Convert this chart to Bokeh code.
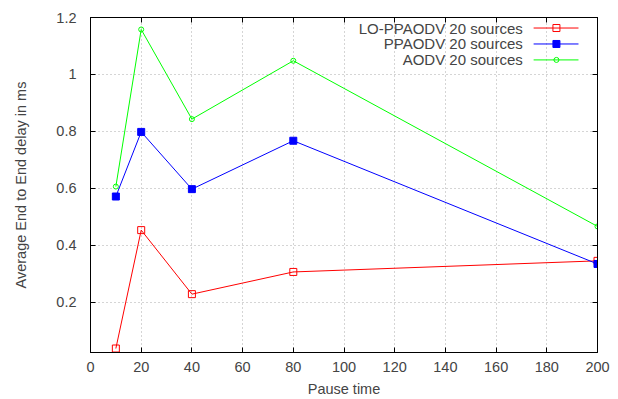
from bokeh.plotting import figure
from bokeh.models import LinearAxis, FixedTicker, Range1d
from bokeh.embed import file_html
from bokeh.resources import INLINE
from bokeh.core.properties import value

pause_time = [10, 20, 40, 80, 200]
lo_ppaodv = [0.037, 0.453, 0.228, 0.306, 0.345]
ppaodv = [0.571, 0.798, 0.597, 0.767, 0.334]
aodv = [0.606, 1.158, 0.843, 1.048, 0.466]
series_names = ["LO-PPAODV 20 sources", "PPAODV 20 sources", "AODV 20 sources"]
x_ticks = [0, 20, 40, 60, 80, 100, 120, 140, 160, 180, 200]
y_ticks = [0.2, 0.4, 0.6, 0.8, 1.0, 1.2]
y_tick_labels = ["0.2", "0.4", "0.6", "0.8", "1", "1.2"]

FONT = "Liberation Sans"
TXT = "#444444"
FS = "14.5px"

p = figure(width=618, height=399, output_backend="svg", toolbar_location=None,
           x_range=Range1d(0, 200), y_range=Range1d(0.023, 1.2),
           min_border_left=90, min_border_right=21, min_border_top=17, min_border_bottom=45)
p.background_fill_color = "white"
p.border_fill_color = "white"
p.outline_line_color = "black"
p.outline_line_width = 1

for ax in (p.xaxis[0], p.yaxis[0]):
    ax.major_tick_in = 5
    ax.major_tick_out = 0
    ax.minor_tick_line_color = None
    ax.axis_line_color = "black"
    ax.major_tick_line_color = "black"
    ax.major_label_text_font = FONT
    ax.major_label_text_font_size = FS
    ax.major_label_text_color = TXT
    ax.axis_label_text_font = FONT
    ax.axis_label_text_font_size = FS
    ax.axis_label_text_font_style = "normal"
    ax.axis_label_text_color = TXT

p.xaxis[0].ticker = FixedTicker(ticks=x_ticks)
p.yaxis[0].ticker = FixedTicker(ticks=y_ticks)
p.yaxis[0].major_label_overrides = {t: l for t, l in zip(y_ticks, y_tick_labels)}
p.xaxis[0].axis_label = "Pause time"
p.yaxis[0].axis_label = "Average End to End delay in ms"
p.xaxis[0].major_label_standoff = 9
p.yaxis[0].major_label_standoff = 14
p.xaxis[0].axis_label_standoff = 6
p.yaxis[0].axis_label_standoff = 24

for loc, tk in (("right", y_ticks), ("above", x_ticks)):
    ax = LinearAxis(ticker=FixedTicker(ticks=tk), major_tick_in=5, major_tick_out=0,
                    minor_tick_line_color=None, major_label_text_font_size="1px",
                    major_label_text_color=None,
                    major_label_standoff=0, axis_line_color="black")
    p.add_layout(ax, loc)

p.xgrid.ticker = FixedTicker(ticks=x_ticks[1:-1])
p.ygrid.ticker = FixedTicker(ticks=y_ticks[:-1])
for g in (p.xgrid[0], p.ygrid[0]):
    g.grid_line_color = "#aaaaaa"
    g.grid_line_dash = "1 3"
    g.grid_line_width = 1

RED, BLUE, GREEN = "#ff0000", "#0000ff", "#00ff00"

p.line(pause_time, lo_ppaodv, line_color=RED, line_width=1)
p.scatter(pause_time, lo_ppaodv, marker="square", size=7, fill_color="white",
          fill_alpha=0, line_color=RED, line_width=1)
p.line(pause_time, ppaodv, line_color=BLUE, line_width=1)
p.scatter(pause_time, ppaodv, marker="square", size=7, fill_color=BLUE, line_color=BLUE)
p.line(pause_time, aodv, line_color=GREEN, line_width=1)
p.scatter(pause_time, aodv, marker="circle", size=5, fill_alpha=0, line_color=GREEN, line_width=1)

# legend (gnuplot style: right-aligned text, then sample)
leg_y = [1.163, 1.107, 1.051]
colors = [RED, BLUE, GREEN]
p.text(x=[170.5] * 3, y=leg_y, text=series_names, text_align="right", text_baseline="middle",
       text_font=value(FONT), text_font_size="15px", text_color=TXT)
for yy, c in zip(leg_y, colors):
    p.line([174.8, 192.5], [yy, yy], line_color=c, line_width=1)
p.scatter([183.8], [leg_y[0]], marker="square", size=7, fill_alpha=0, line_color=RED)
p.scatter([183.8], [leg_y[1]], marker="square", size=7, fill_color=BLUE, line_color=BLUE)
p.scatter([183.8], [leg_y[2]], marker="circle", size=5, fill_alpha=0, line_color=GREEN)

open("out.html", "w").write(file_html(p, INLINE))
